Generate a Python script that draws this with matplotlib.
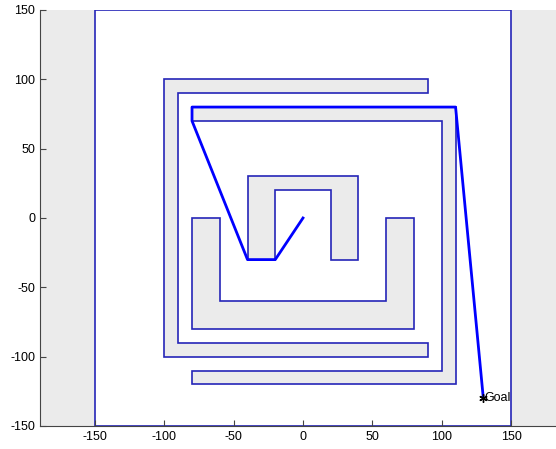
import matplotlib
matplotlib.use("Agg")
import matplotlib.pyplot as plt
from matplotlib.patches import Polygon, Rectangle

plt.rcParams['font.family'] = ['Liberation Sans', 'DejaVu Sans']
plt.rcParams['axes.unicode_minus'] = False

# map boundary
world_min, world_max = -150, 150

# maze walls (polygon vertices)
wall_outer = [(-100, 100), (90, 100), (90, 90), (-90, 90), (-90, -90),
              (90, -90), (90, -100), (-100, -100)]
wall_second = [(-80, 80), (110, 80), (110, -120), (-80, -120), (-80, -110),
               (100, -110), (100, 70), (-80, 70)]
wall_u = [(-80, 0), (-60, 0), (-60, -60), (60, -60), (60, 0), (80, 0),
          (80, -80), (-80, -80)]
wall_inner = [(-40, -30), (-40, 30), (40, 30), (40, -30), (20, -30),
              (20, 20), (-20, 20), (-20, -30)]
walls = [wall_outer, wall_second, wall_u, wall_inner]

# planned path
path_x = [0, -20, -40, -80, -80, 110, 130]
path_y = [0, -30, -30, 70, 80, 80, -130]

goal = (130, -130)

fig = plt.figure(figsize=(5.56, 4.49), dpi=100)
ax = fig.add_axes([40 / 556, 23 / 449, 516 / 556, 416 / 449])
ax.set_facecolor('#ebebeb')

edge = '#2525b8'
ax.add_patch(Rectangle((world_min, world_min), world_max - world_min,
                       world_max - world_min, facecolor='white',
                       edgecolor=edge, linewidth=1.2, zorder=1))
for w in walls:
    ax.add_patch(Polygon(w, closed=True, facecolor='#ebebeb',
                         edgecolor=edge, linewidth=1.2, zorder=2))

ax.plot(path_x, path_y, color='blue', linewidth=2, zorder=3)
# asterisk marker like the octave '*'
ax.plot(goal[0], goal[1], marker=(6, 2, 0), color='black', markersize=6,
        markeredgewidth=1, linestyle='none', zorder=4)
ax.text(goal[0] + 1, goal[1], 'Goal', fontsize=9, va='center', ha='left',
        zorder=5)

ax.set_xlim(-189.6, 182.4)
ax.set_ylim(-150, 150)
ax.set_xticks(range(-150, 151, 50))
ax.set_yticks(range(-150, 151, 50))
ax.tick_params(direction='in', length=4, labelsize=9, color='#444444')
for s in ['top', 'right']:
    ax.spines[s].set_visible(False)
for s in ['left', 'bottom']:
    ax.spines[s].set_color('#444444')

fig.savefig('out.png', dpi=100)
